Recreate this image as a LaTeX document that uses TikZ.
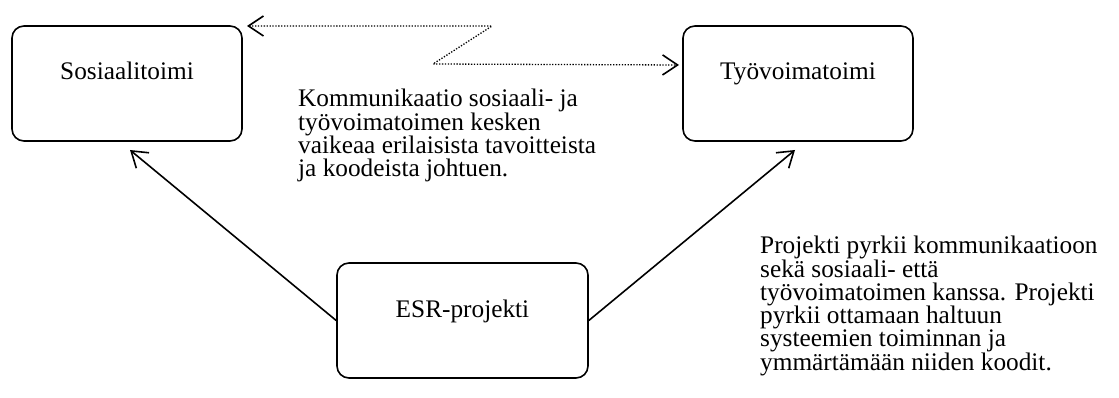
\documentclass[tikz,border=0pt]{standalone}
\usepackage{fontspec}
\setmainfont{Liberation Serif}
\usetikzlibrary{arrows.meta}

\begin{document}
\begin{tikzpicture}[x=1pt,y=-1pt,font=\fontsize{25.3}{23.3}\selectfont,
  office/.style={draw,line width=1.6pt,rounded corners=12pt,minimum width=230pt,minimum height=115pt,inner sep=0pt,text height=18pt,text depth=25pt},
  note/.style={anchor=north west,align=left,inner sep=0pt},
  barb/.tip={Straight Barb[length=15pt,width=20pt,line width=1.6pt]}]

  \useasboundingbox (0,0) rectangle (1119,398);

  \node[office] (sos) at (127,83.5) {Sosiaalitoimi};
  \node[office] (tyo) at (798,83.5) {Työvoimatoimi};
  \node[office,minimum width=251pt] (esr) at (462.5,320.5) {ESR-projekti};

  % free ends of the connectors
  \coordinate (sosTip) at (130,150);
  \coordinate (tyoTip) at (795,150);
  \coordinate (zigA) at (247,26);
  \coordinate (zigB) at (492,26);
  \coordinate (zigC) at (433,64);
  \coordinate (zigD) at (679,65);

  \draw[line width=1.6pt,-barb] (esr.west) -- (sosTip);
  \draw[line width=1.6pt,-barb] (esr.east) -- (tyoTip);
  \draw[line width=1.3pt,dash pattern=on 1.3pt off 1.6pt,barb-barb]
    (zigA) -- (zigB) -- (zigC) -- (zigD);

  \node[note] (comm) at (298,89) {Kommunikaatio sosiaali- ja\\työvoimatoimen kesken\\vaikeaa erilaisista tavoitteista\\ja koodeista johtuen.};
  \node[note] (proj) at (760,236) {Projekti pyrkii kommunikaatioon\\sekä sosiaali- että\\työvoimatoimen kanssa. Projekti\\pyrkii ottamaan haltuun\\systeemien toiminnan ja\\ymmärtämään niiden koodit.};

\end{tikzpicture}
\end{document}
